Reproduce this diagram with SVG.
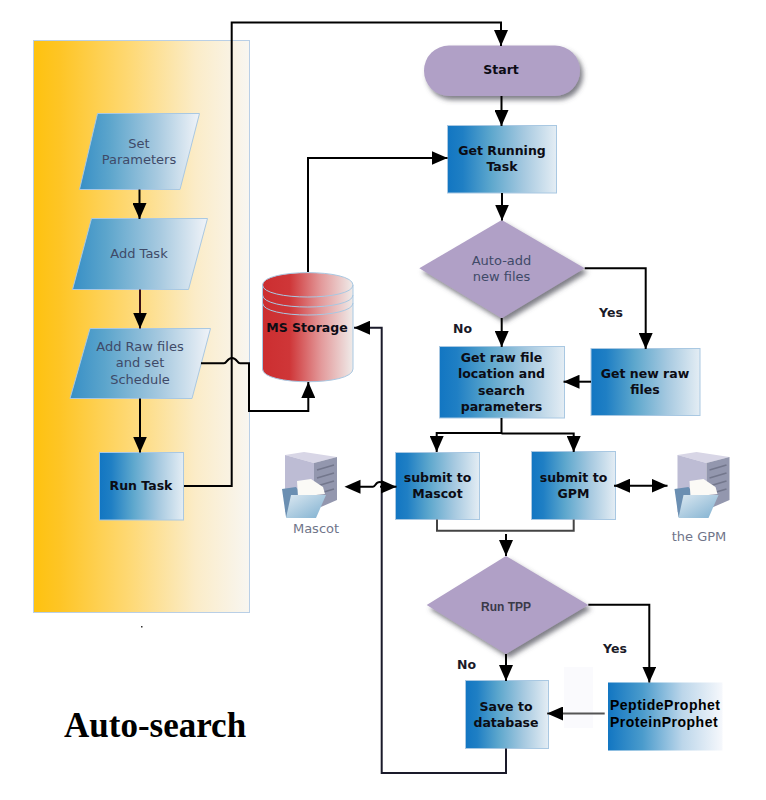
<svg xmlns="http://www.w3.org/2000/svg" xmlns:xlink="http://www.w3.org/1999/xlink" width="766" height="800" viewBox="0 0 766 800">
<defs>
<linearGradient id="gPanel"><stop offset="0" stop-color="#fec20f"/><stop offset=".12" stop-color="#fec525"/><stop offset=".45" stop-color="#fed976"/><stop offset=".75" stop-color="#fbecc8"/><stop offset="1" stop-color="#f8f6f1"/></linearGradient>
<linearGradient id="gBox"><stop offset="0" stop-color="#1276c2"/><stop offset=".14" stop-color="#1f7fc4"/><stop offset=".4" stop-color="#5da7cd"/><stop offset=".7" stop-color="#a6c9e0"/><stop offset="1" stop-color="#e4edf4"/></linearGradient>
<linearGradient id="gPara"><stop offset="0" stop-color="#378fc6"/><stop offset=".25" stop-color="#5ca5cc"/><stop offset=".65" stop-color="#a8cae0"/><stop offset="1" stop-color="#f0f3f8"/></linearGradient>
<linearGradient id="gPP"><stop offset="0" stop-color="#1276c2"/><stop offset=".3" stop-color="#4a9bcc"/><stop offset=".65" stop-color="#bcd6ea"/><stop offset="1" stop-color="#f6f8fc"/></linearGradient>
<linearGradient id="gCyl"><stop offset="0" stop-color="#cc2e30"/><stop offset=".3" stop-color="#cf3638"/><stop offset=".65" stop-color="#e39a9b"/><stop offset="1" stop-color="#efebe9"/></linearGradient>
<linearGradient id="gFolder" x1="0" y1="0" x2="1" y2="1"><stop offset="0" stop-color="#dbe8f1"/><stop offset="1" stop-color="#7fb0d0"/></linearGradient>
<filter id="shadow" x="-15%" y="-15%" width="130%" height="140%"><feDropShadow dx="3" dy="4" stdDeviation="2.500" flood-color="#4a4a55" flood-opacity=".7"/></filter>
<marker id="arrow" viewBox="0 0 16 14" refX="16" refY="7" markerWidth="16" markerHeight="14" markerUnits="userSpaceOnUse" orient="auto-start-reverse"><path d="M0 0L16 7L0 14Z" fill="#000"/></marker>
<g id="server">
<path d="M285 455L304 452L337 457L314 463Z" fill="#d8d6e6"/>
<path d="M285 455L314 463L314 505L285 512Z" fill="#bdbcd4"/>
<path d="M314 463L337 457L337 500L314 510Z" fill="#9397ae"/>
<path d="M317 470L334 465M317 478L334 473M317 486L334 481M317 494L334 489" stroke="#73778c" stroke-width="1.500"/>
<path d="M282 489L296 487L299 491L302 517L286 517Z" fill="#6b8fb2"/>
<path d="M297 481L311 479L323 487L325 494L298 497Z" fill="#fbfaf6"/>
<path d="M291 495L326 495L316 518L286 518Z" fill="url(#gFolder)"/>
</g>
</defs>
<style>
.n{stroke:#a9c8e2;stroke-width:1}
.t{font-family:"DejaVu Sans",Verdana,sans-serif;font-size:13px;fill:#3f4a68;text-anchor:middle}
.b{font-family:"DejaVu Sans",Verdana,sans-serif;font-size:12.500px;font-weight:bold;fill:#0c0c14;text-anchor:middle}
.g{font-family:"DejaVu Sans",Verdana,sans-serif;font-size:13px;fill:#70758a;text-anchor:middle}
.c{fill:none;stroke:#000;stroke-width:2}
.a{marker-end:url(#arrow)}
</style>
<rect width="766" height="800" fill="#fff"/>
<g id="panel"><rect x="33.500" y="40.500" width="216" height="572" fill="url(#gPanel)" stroke="#b9cfe6"/><rect x="141" y="626" width="1.500" height="1.500" fill="#333"/></g>
<g id="set-parameters"><path class="n" d="M97.500 113.500H199.500L180 189.500H79.500Z" fill="url(#gPara)"/><text class="t" x="139" y="148">Set</text><text class="t" x="139" y="164">Parameters</text></g>
<g id="add-task"><path class="n" d="M91.500 218.500H207.500L188.500 289.500H72.500Z" fill="url(#gPara)"/><text class="t" x="139" y="258">Add Task</text></g>
<g id="add-raw"><path class="n" d="M90 328.500H210.500L192 398.500H70Z" fill="url(#gPara)"/><text class="t" x="140" y="351">Add Raw files</text><text class="t" x="140" y="367">and set</text><text class="t" x="140" y="384">Schedule</text></g>
<g id="run-task"><rect class="n" x="99.500" y="452.500" width="84" height="67.500" fill="url(#gBox)"/><text class="b" x="141" y="490">Run Task</text></g>
<g id="ms-storage"><path class="n" d="M262.500 285C262.500 268.500 353 268.500 353 285V369C353 386 262.500 386 262.500 369Z" fill="url(#gCyl)"/><path d="M262.500 285C262.500 301 353 301 353 285M262.500 295C262.500 311 353 311 353 295M262.500 303C262.500 319 353 319 353 303" fill="none" stroke="#a9c8e2"/><text class="b" x="307" y="332">MS Storage</text></g>
<g id="start"><rect x="424" y="45.500" width="156" height="50.500" rx="25" fill="#b0a0c6" filter="url(#shadow)"/><text class="b" x="501" y="74">Start</text></g>
<g id="get-running"><rect class="n" x="447.500" y="125.500" width="109" height="67.500" fill="url(#gBox)"/><text class="b" x="502" y="155">Get Running</text><text class="b" x="502" y="171">Task</text></g>
<g id="auto-add"><path d="M501.700 220L584.700 268.300L501.700 318.300L419.300 268.300Z" fill="#b0a0c6" filter="url(#shadow)"/><text class="t" x="501.500" y="265">Auto-add</text><text class="t" x="501.500" y="281">new files</text></g>
<g id="get-raw"><rect class="n" x="439.500" y="346.500" width="125" height="71.500" fill="url(#gBox)"/><text class="b" x="501.500" y="362">Get raw file</text><text class="b" x="501.500" y="378">location and</text><text class="b" x="501.500" y="395">search</text><text class="b" x="501.500" y="411">parameters</text></g>
<g id="get-new"><rect class="n" x="591" y="348.500" width="109" height="67" fill="url(#gBox)"/><text class="b" x="645" y="378">Get new raw</text><text class="b" x="645" y="394">files</text></g>
<g id="submit-mascot"><rect class="n" x="395.500" y="452.500" width="84" height="67" fill="url(#gBox)"/><text class="b" x="437.500" y="482">submit to</text><text class="b" x="437.500" y="498">Mascot</text></g>
<g id="submit-gpm"><rect class="n" x="531.500" y="451.500" width="84" height="68" fill="url(#gBox)"/><text class="b" x="573.500" y="482">submit to</text><text class="b" x="573.500" y="498">GPM</text></g>
<g id="mascot"><use xlink:href="#server" href="#server"/><text class="g" x="316" y="533">Mascot</text></g>
<g id="gpm"><use xlink:href="#server" href="#server" x="392.500"/><text class="g" x="699" y="541">the GPM</text></g>
<g id="run-tpp"><path d="M506 556L588.300 605L506 654L426.700 605Z" fill="#b0a0c6" filter="url(#shadow)"/><text x="506" y="611" font-family="Liberation Sans,Arial,sans-serif" font-size="12" font-weight="bold" fill="#3a3a48" text-anchor="middle">Run TPP</text></g>
<g id="save"><rect class="n" x="465.500" y="680.500" width="83" height="68" fill="url(#gBox)"/><text class="b" x="506" y="711">Save to</text><text class="b" x="506" y="727">database</text></g>
<rect x="564" y="667" width="29" height="61" fill="#fafafd"/>
<g id="prophets"><rect x="608" y="682.500" width="114.500" height="68" fill="url(#gPP)"/><text x="610" y="710" font-family="Liberation Sans,Arial,sans-serif" font-size="14" font-weight="bold" letter-spacing=".5" fill="#000">PeptideProphet</text><text x="610" y="727" font-family="Liberation Sans,Arial,sans-serif" font-size="14" font-weight="bold" letter-spacing=".5" fill="#000">ProteinProphet</text></g>
<g id="connectors">
<path class="c a" d="M139.500 189.500V219"/>
<path class="c a" style="stroke:#3a1015" d="M140 289.500V328.500"/>
<path class="c a" d="M140 398.500V452.500"/>
<path class="c a" d="M184 486H231.700V22.500H501V46"/>
<path class="c a" d="M501.500 96V126"/>
<path class="c a" d="M502 193V220.500"/>
<path class="c a" d="M308 272V158H447.500"/>
<path class="c a" d="M201 363.300H224C227 363.300 227 358 232 358C237 358 237 363.300 240 363.300H249V411H308.300V382"/>
<path class="c a" style="stroke:#1a1a2a" d="M506 748.500V773H381.700V327.700H354"/>
<path class="c" d="M360 486.700H373C376 486.700 375 482 380 482C385 482 384 486.700 388 486.700"/>
<path d="M344.500 486.700L360.500 479.700V493.700Z" fill="#000"/>
<path class="c a" d="M380 486.700H396.500"/>
<path class="c a" d="M584.700 268.300H645.700V349"/>
<path class="c a" d="M501.700 318V347"/>
<path class="c a" d="M591 381.700H563.500"/>
<path class="c a" d="M501.500 418V433H436.700V452"/>
<path class="c a" d="M501.500 433.500H573.700V452"/>
<path class="c" style="stroke:#444" d="M437 519.500V530.700H573.700V519.500"/>
<path class="c a" d="M506 534V556"/>
<path class="c a" style="marker-start:url(#arrow)" d="M614 485.700H667.500"/>
<path class="c a" d="M588.300 604.700H649.300V682.500"/>
<path class="c a" d="M506 654V681"/>
<path class="c a" style="stroke:#555" d="M604.700 713.500H547"/>
</g>
<g id="labels" font-family="DejaVu Sans,Verdana,sans-serif" font-size="12.500" font-weight="bold" fill="#1a1a28">
<text x="453" y="333">No</text>
<text x="599" y="317">Yes</text>
<text x="457" y="669">No</text>
<text x="603" y="653">Yes</text>
</g>
<text x="64" y="737" font-family="Liberation Serif,Times New Roman,serif" font-size="35" font-weight="bold" fill="#000">Auto-search</text>
</svg>
